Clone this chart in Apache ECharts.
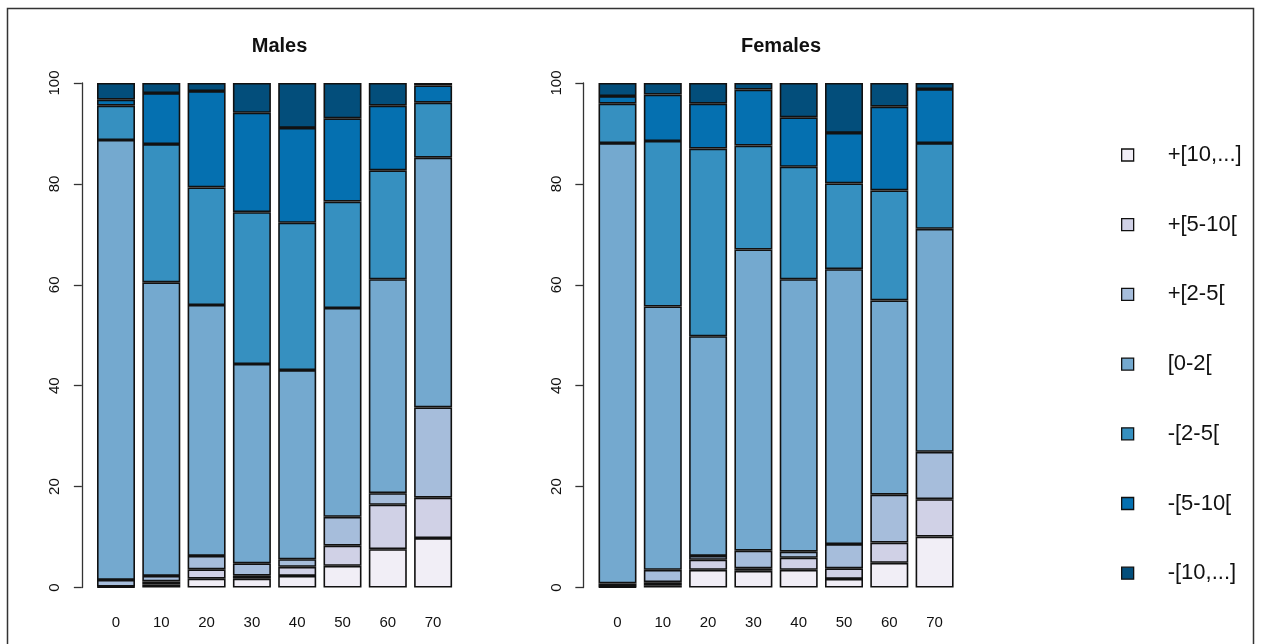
<!DOCTYPE html>
<html>
<head>
<meta charset="utf-8">
<script src="https://cdn.jsdelivr.net/npm/echarts@6/dist/echarts.min.js"></script>
<style>
  html, body { margin: 0; padding: 0; background: #fff; }
  #chart { width: 1261px; height: 644px; }
</style>
</head>
<body>
<div id="chart"></div>
<script>
// ---- Data ----
const categories = ['0', '10', '20', '30', '40', '50', '60', '70'];
const classNames = ['+[10,...]', '+[5-10[', '+[2-5[', '[0-2[', '-[2-5[', '-[5-10[', '-[10,...]'];
const classColors = ['#f1eef6', '#d0d1e6', '#a6bddb', '#74a9cf', '#3690c0', '#0570b0', '#034e7b'];
const yTicks = [0, 20, 40, 60, 80, 100];

// Males (% per class, stacked bottom to top)
const malesPlus10   = [0.1, 0.6, 1.75, 1.75, 2.3, 4.3, 7.6, 9.8];
const malesPlus5_10 = [0.1, 0.6, 1.85, 0.6, 1.8, 4.0, 8.8, 8.0];
const malesPlus2_5  = [1.3, 1.1, 2.65, 2.45, 1.5, 5.7, 2.3, 17.9];
const males0_2      = [87.2, 58.2, 49.75, 39.5, 37.5, 41.4, 42.4, 49.5];
const malesMin2_5   = [6.8, 27.4, 23.3, 30.1, 29.2, 21.1, 21.6, 10.9];
const malesMin5_10  = [1.2, 10.1, 19.1, 19.7, 18.8, 16.5, 12.8, 3.4];
const malesMin10    = [3.3, 2.0, 1.6, 5.9, 8.9, 7.0, 4.5, 0.5];

// Females
const femalesPlus10   = [0.1, 0.45, 3.5, 3.3, 3.5, 1.7, 4.9, 10.1];
const femalesPlus5_10 = [0.1, 0.6, 2.0, 0.5, 2.4, 2.1, 4.0, 7.4];
const femalesPlus2_5  = [0.6, 2.45, 0.75, 3.5, 1.2, 4.8, 9.5, 9.4];
const females0_2      = [87.3, 52.2, 43.55, 59.7, 54.0, 54.5, 38.5, 44.2];
const femalesMin2_5   = [7.8, 32.8, 37.2, 20.6, 22.3, 17.0, 21.8, 17.0];
const femalesMin5_10  = [1.5, 9.2, 8.9, 11.1, 9.8, 10.0, 16.6, 10.7];
const femalesMin10    = [2.6, 2.3, 4.1, 1.3, 6.8, 9.9, 4.7, 1.2];

const malesData = [malesPlus10, malesPlus5_10, malesPlus2_5, males0_2, malesMin2_5, malesMin5_10, malesMin10];
const femalesData = [femalesPlus10, femalesPlus5_10, femalesPlus2_5, females0_2, femalesMin2_5, femalesMin5_10, femalesMin10];

// ---- Chart ----
const FONT = 'Liberation Sans, Arial, sans-serif';
const gridW = 362.4, gridTop = 83, gridH = 504.5;
const gridLefts = [93.35, 594.85];

function makeSeries(dataSets, idx, stackName) {
  return dataSets.map((vals, k) => ({
    name: classNames[k],
    type: 'bar',
    stack: stackName,
    xAxisIndex: idx,
    yAxisIndex: idx,
    barWidth: 38,
    data: vals,
    itemStyle: { color: classColors[k], borderColor: '#111', borderWidth: 1.6 },
    emphasis: { disabled: true }
  }));
}

const chart = echarts.init(document.getElementById('chart'));
const option = {
  animation: false,
  backgroundColor: '#fff',
  title: [
    { text: 'Males', left: gridLefts[0] + gridW / 2, top: 31, textAlign: 'center',
      textStyle: { fontFamily: FONT, fontSize: 20, fontWeight: 'bold', color: '#111' } },
    { text: 'Females', left: gridLefts[1] + gridW / 2, top: 31, textAlign: 'center',
      textStyle: { fontFamily: FONT, fontSize: 20, fontWeight: 'bold', color: '#111' } }
  ],
  legend: {
    orient: 'vertical',
    left: 1121,
    top: 143,
    padding: 0,
    itemWidth: 12,
    itemHeight: 12,
    itemGap: 45.7,
    icon: 'rect',
    data: classNames,
    itemStyle: { borderColor: '#111', borderWidth: 1.3 },
    textStyle: { fontFamily: FONT, fontSize: 22, color: '#111', lineHeight: 24, padding: [0, 0, 0, 29] }
  },
  grid: gridLefts.map(l => ({ left: l, top: gridTop, width: gridW, height: gridH })),
  xAxis: [0, 1].map(i => ({
    type: 'category',
    gridIndex: i,
    data: categories,
    axisLine: { show: false },
    axisTick: { show: false },
    axisLabel: { fontFamily: FONT, fontSize: 15, color: '#111', margin: 28 }
  })),
  yAxis: [0, 1].map(i => ({
    type: 'value',
    gridIndex: i,
    min: 0, max: 100, interval: 20,
    offset: 11.5,
    splitLine: { show: false },
    axisLine: { show: true, lineStyle: { color: '#333', width: 1.3 } },
    axisTick: { show: true, length: 8, lineStyle: { color: '#333', width: 1.3 } },
    axisLabel: { fontFamily: FONT, fontSize: 15, color: '#111', rotate: 90, margin: 19,
      formatter: v => (yTicks.indexOf(v) >= 0 ? String(v) : '') }
  })),
  graphic: [{
    type: 'polyline',
    shape: { points: [[7.5, 700], [7.5, 8.5], [1253.5, 8.5], [1253.5, 700]] },
    style: { stroke: '#333', lineWidth: 1.5, fill: null },
    silent: true
  }],
  series: [].concat(makeSeries(malesData, 0, 'males'), makeSeries(femalesData, 1, 'females'))
};
chart.setOption(option);
</script>
</body>
</html>
